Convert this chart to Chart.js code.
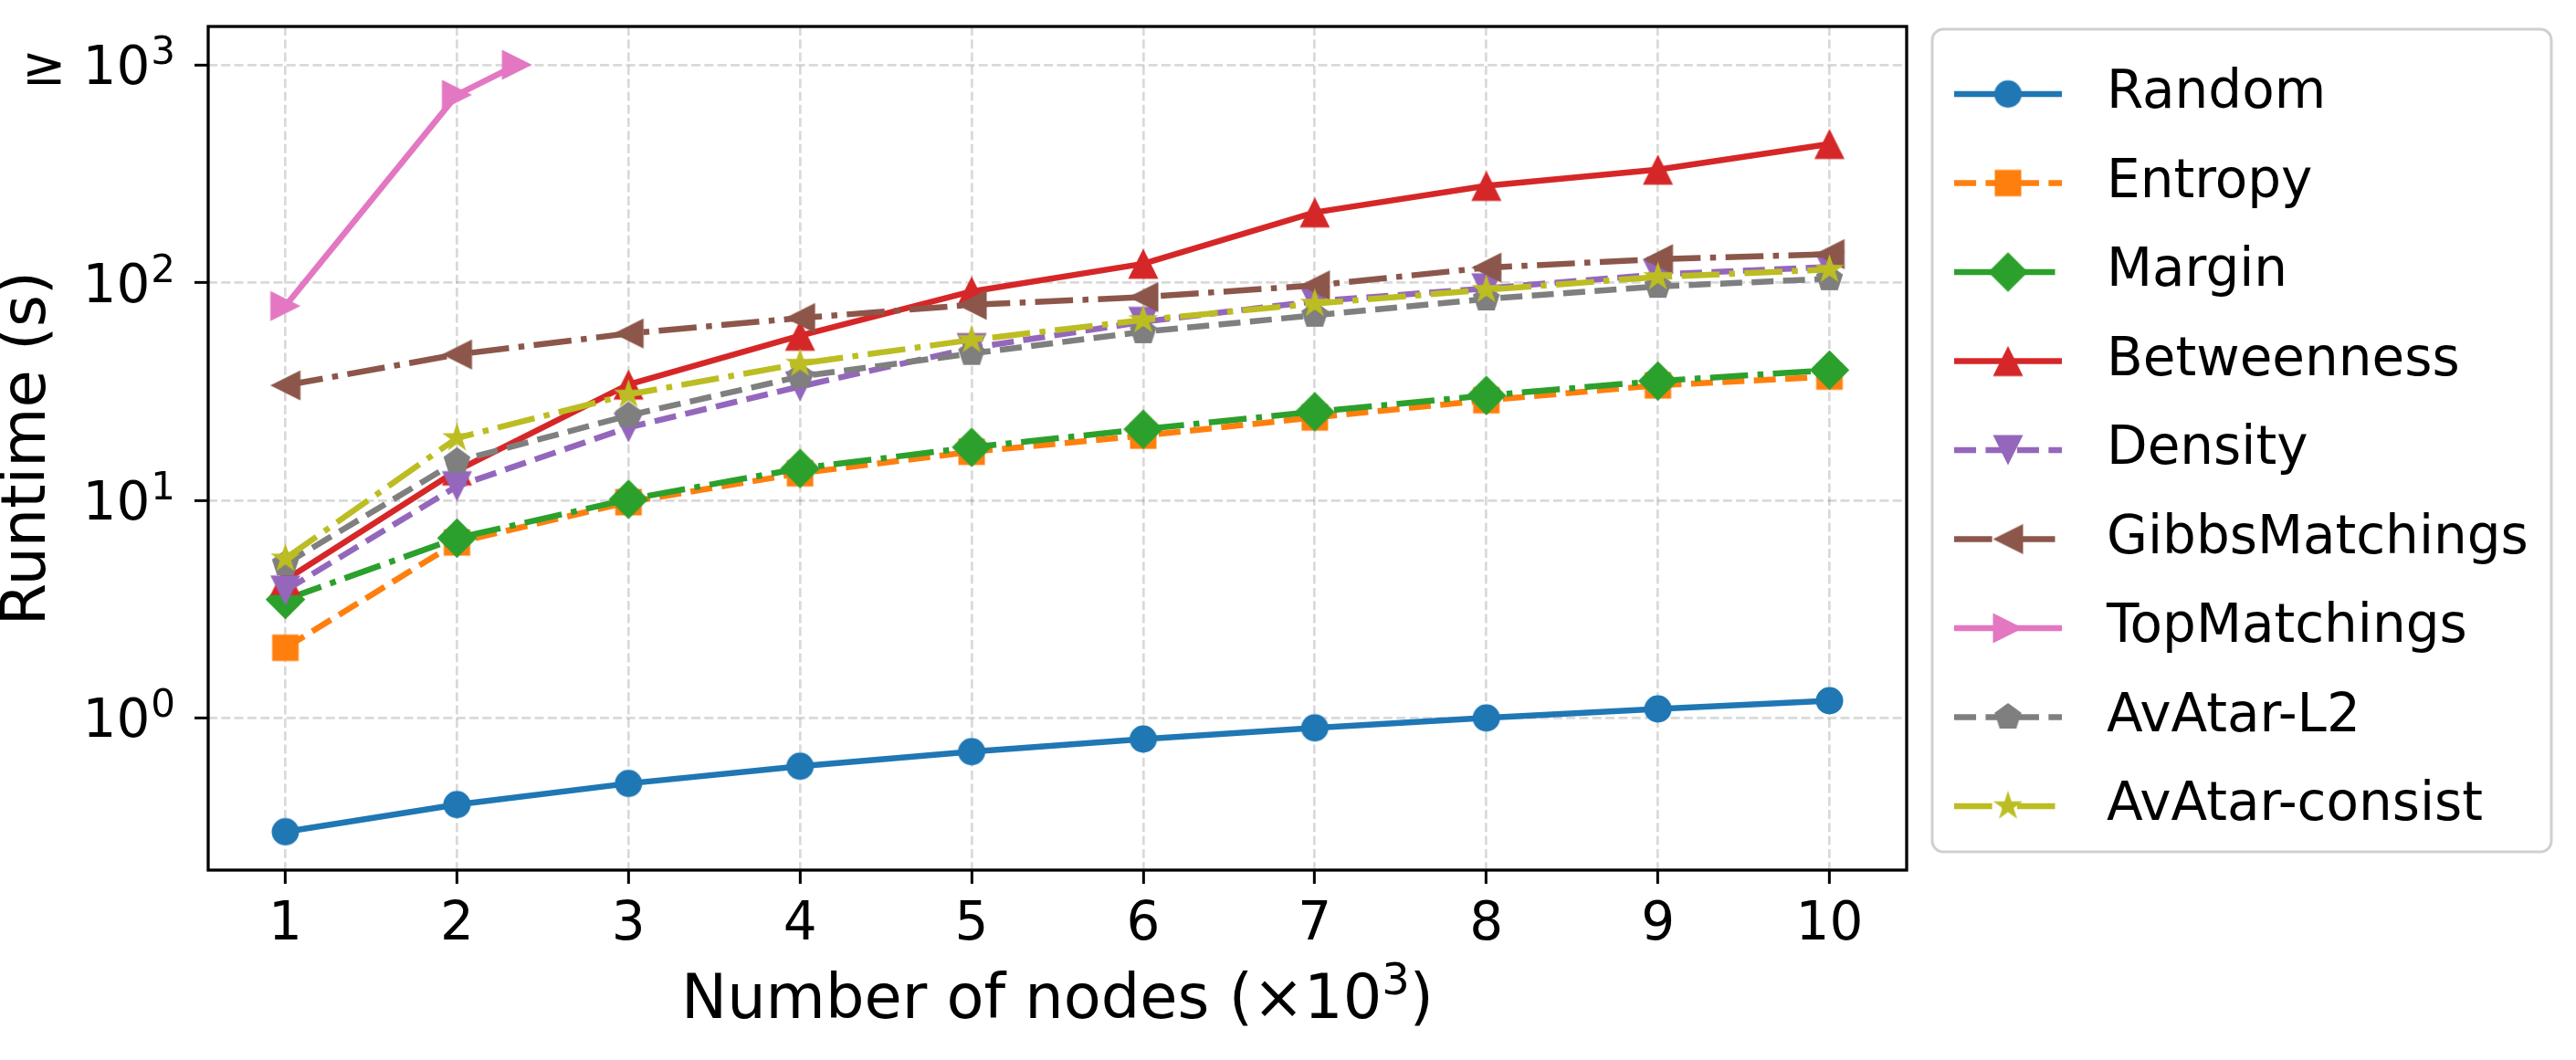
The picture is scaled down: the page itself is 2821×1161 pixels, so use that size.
<!DOCTYPE html>
<html>
<head>
<meta charset="utf-8">
<title>Runtime vs number of nodes</title>
<script src="https://cdn.jsdelivr.net/npm/chart.js@4.4.1/dist/chart.umd.min.js"></script>
<style>
  html, body { margin: 0; padding: 0; background: #fff; }
  #wrap { width: 2821px; height: 1161px; }
</style>
</head>
<body>
<div id="wrap"><canvas id="runtimeChart" width="2821" height="1161"></canvas></div>
<script>
// Runtime (s) vs number of nodes (x10^3), log y axis

// x positions
const nodes = [1, 2, 3, 4, 5, 6, 7, 8, 9, 10];
const topMatchingsNodes = [1, 2, 2.35];

// series values (seconds)
const random = [0.3, 0.4, 0.5, 0.6, 0.7, 0.8, 0.9, 1.0, 1.1, 1.2];
const entropy = [2.1, 6.4, 9.8, 13.3, 16.7, 19.8, 24, 28.8, 33.7, 37];
const margin = [3.5, 6.7, 10.1, 14, 17.5, 21.2, 25.5, 30.3, 35.3, 39.6];
const betweenness = [4.3, 13.7, 34, 57, 91, 122, 210, 278, 330, 433];
const density = [3.85, 11.6, 21.6, 33.3, 50, 66, 82, 94, 109, 118];
const gibbsMatchings = [33.7, 46.7, 58.3, 68.7, 79, 85.7, 97, 117, 128, 135];
const topMatchings = [78, 728, 1000];
const avatarL2 = [5.1, 15.1, 24.5, 37, 47.2, 59.4, 70.7, 84, 96, 104];
const avatarConsist = [5.4, 19.3, 30.6, 42.4, 54.5, 67.3, 80, 92.6, 106, 114.6];

// tick labels
const xTickValues = [1, 2, 3, 4, 5, 6, 7, 8, 9, 10];
const yTickValues = [1, 10, 100, 1000];
const yTickExponents = ['0', '1', '2', '3'];
const yTickPrefixes = ['', '', '', '\u2265'];

const FONT = 'DejaVu Sans';
const LW = 6.5;
const DASHED = [3.7 * LW, 1.6 * LW];
const DASHDOT = [6.4 * LW, 1.6 * LW, 1.0 * LW, 1.6 * LW];

// draw a matplotlib-like filled marker into a small canvas
function makeMarker(shape, color, h) {
    const dim = Math.ceil(h * 3) + 4;
    const c = document.createElement('canvas');
    c.width = dim;
    c.height = dim;
    const g = c.getContext('2d');
    const cx = dim / 2, cy = dim / 2;
    g.fillStyle = color;
    g.beginPath();
    const poly = (pts) => {
        pts.forEach((p, i) => i ? g.lineTo(cx + p[0], cy + p[1]) : g.moveTo(cx + p[0], cy + p[1]));
    };
    const tri = (deg) => {
        const a = deg * Math.PI / 180;
        const base = [[0, -h], [h, h], [-h, h]];
        poly(base.map(([x, y]) => [x * Math.cos(a) - y * Math.sin(a), x * Math.sin(a) + y * Math.cos(a)]));
    };
    if (shape === 'o') {
        g.arc(cx, cy, h, 0, Math.PI * 2);
    } else if (shape === 's') {
        g.rect(cx - h, cy - h, 2 * h, 2 * h);
    } else if (shape === 'D') {
        const d = h * 1.45;
        poly([[0, -d], [d, 0], [0, d], [-d, 0]]);
    } else if (shape === '^') {
        tri(0);
    } else if (shape === '>') {
        tri(90);
    } else if (shape === 'v') {
        tri(180);
    } else if (shape === '<') {
        tri(270);
    } else if (shape === 'p') {
        const pts = [];
        for (let k = 0; k < 5; k++) {
            const a = -Math.PI / 2 + k * 2 * Math.PI / 5;
            pts.push([h * Math.cos(a), h * Math.sin(a)]);
        }
        poly(pts);
    } else if (shape === '*') {
        const pts = [];
        for (let k = 0; k < 10; k++) {
            const r = k % 2 ? h * 0.381966 : h;
            const a = -Math.PI / 2 + k * Math.PI / 5;
            pts.push([r * Math.cos(a), r * Math.sin(a)]);
        }
        poly(pts);
    }
    g.closePath();
    g.fill();
    return c;
}

const series = [
    { label: 'Random', x: nodes, y: random, color: '#1f77b4', dash: [], marker: 'o', size: 15 },
    { label: 'Entropy', x: nodes, y: entropy, color: '#ff7f0e', dash: DASHED, marker: 's', size: 14.5 },
    { label: 'Margin', x: nodes, y: margin, color: '#2ca02c', dash: DASHDOT, marker: 'D', size: 15 },
    { label: 'Betweenness', x: nodes, y: betweenness, color: '#d62728', dash: [], marker: '^', size: 16.5 },
    { label: 'Density', x: nodes, y: density, color: '#9467bd', dash: DASHED, marker: 'v', size: 16.5 },
    { label: 'GibbsMatchings', x: nodes, y: gibbsMatchings, color: '#8c564b', dash: DASHDOT, marker: '<', size: 16.5 },
    { label: 'TopMatchings', x: topMatchingsNodes, y: topMatchings, color: '#e377c2', dash: [], marker: '>', size: 16.5 },
    { label: 'AvAtar-L2', x: nodes, y: avatarL2, color: '#7f7f7f', dash: DASHED, marker: 'p', size: 15.5 },
    { label: 'AvAtar-consist', x: nodes, y: avatarConsist, color: '#bcbd22', dash: DASHDOT, marker: '*', size: 17 }
];
series.forEach(s => { s.icon = makeMarker(s.marker, s.color, s.size); });

const datasets = series.map((s, i) => ({
    label: s.label,
    data: s.x.map((x, j) => ({ x: x, y: s.y[j] })),
    borderColor: s.color,
    backgroundColor: s.color,
    borderWidth: LW,
    borderDash: s.dash,
    borderJoinStyle: 'round',
    pointStyle: s.icon,
    pointRadius: 12,
    pointHoverRadius: 12,
    tension: 0,
    fill: false,
    order: series.length - i
}));

const gridColor = 'rgba(0,0,0,0.15)';
const gridDash = [10, 4.3];

// draws text pieces left to right: [text, fontSize, raise]
function drawPieces(ctx, pieces, x, baseline) {
    pieces.forEach(([t, size, raise]) => {
        ctx.font = size + 'px "' + FONT + '"';
        ctx.fillText(t, x, baseline - raise);
        x += ctx.measureText(t).width;
    });
}
function piecesWidth(ctx, pieces) {
    let w = 0;
    pieces.forEach(([t, size]) => {
        ctx.font = size + 'px "' + FONT + '"';
        w += ctx.measureText(t).width;
    });
    return w;
}

// y tick labels and x title with real superscripts, frame and legend box
const decorPlugin = {
    id: 'decor',
    afterDraw(chart) {
        const ctx = chart.ctx;
        const area = chart.chartArea;
        const yScale = chart.scales.y;

        ctx.save();
        ctx.fillStyle = '#000';
        ctx.textAlign = 'left';
        ctx.textBaseline = 'alphabetic';

        // y tick labels
        const right = area.left - 15 - 21;
        yTickValues.forEach((v, i) => {
            const py = yScale.getPixelForValue(v);
            const base = py + 0.3645 * 58;
            ctx.font = '42px "' + FONT + '"';
            const ew = ctx.measureText(yTickExponents[i]).width;
            ctx.font = '58px "' + FONT + '"';
            const bw = ctx.measureText('10').width;
            const x0 = right - ew - bw - 1;
            ctx.fillText('10', x0, base);
            if (yTickPrefixes[i]) {
                const pw = ctx.measureText(yTickPrefixes[i]).width;
                ctx.fillText(yTickPrefixes[i], x0 - 18 - pw, base);
            }
            ctx.font = '42px "' + FONT + '"';
            ctx.fillText(yTickExponents[i], x0 + bw + 1, base - 22);
        });

        // x axis title
        const xTitle = [['Number of nodes (\u00d710', 67, 0], ['3', 48, 26], [')', 67, 0]];
        const tw = piecesWidth(ctx, xTitle);
        drawPieces(ctx, xTitle, (area.left + area.right) / 2 - tw / 2, 1115);
        ctx.restore();

        // axes frame
        ctx.save();
        ctx.strokeStyle = '#000';
        ctx.lineWidth = 3.3;
        ctx.strokeRect(area.left, area.top, area.right - area.left, area.bottom - area.top);
        ctx.restore();

        // legend
        const bx = area.right + 28, by = area.top + 3, bw = 678, bh = 901, r = 12;
        ctx.save();
        ctx.beginPath();
        ctx.moveTo(bx + r, by);
        ctx.arcTo(bx + bw, by, bx + bw, by + bh, r);
        ctx.arcTo(bx + bw, by + bh, bx, by + bh, r);
        ctx.arcTo(bx, by + bh, bx, by, r);
        ctx.arcTo(bx, by, bx + bw, by, r);
        ctx.closePath();
        ctx.fillStyle = 'rgba(255,255,255,0.8)';
        ctx.fill();
        ctx.strokeStyle = '#d0d0d0';
        ctx.lineWidth = 3;
        ctx.stroke();

        const hx0 = bx + 24, hx1 = bx + 142, tx = bx + 191;
        series.forEach((s, i) => {
            const cy = by + 71 + i * 97.5;
            ctx.beginPath();
            ctx.setLineDash(s.dash);
            ctx.lineDashOffset = 0;
            ctx.strokeStyle = s.color;
            ctx.lineWidth = LW;
            ctx.moveTo(hx0, cy);
            ctx.lineTo(hx1, cy);
            ctx.stroke();
            ctx.setLineDash([]);
            const mx = (hx0 + hx1) / 2;
            ctx.drawImage(s.icon, mx - s.icon.width / 2, cy - s.icon.height / 2);
            ctx.fillStyle = '#000';
            ctx.font = '58px "' + FONT + '"';
            ctx.textAlign = 'left';
            ctx.textBaseline = 'middle';
            ctx.fillText(s.label, tx, cy);
        });
        ctx.restore();
    }
};

new Chart(document.getElementById('runtimeChart'), {
    type: 'line',
    data: { datasets: datasets },
    options: {
        responsive: false,
        animation: false,
        devicePixelRatio: 1,
        events: [],
        layout: { padding: { left: 0, top: 29, right: 733, bottom: 0 } },
        plugins: {
            legend: { display: false },
            tooltip: { enabled: false }
        },
        scales: {
            x: {
                type: 'linear',
                min: 0.55,
                max: 10.45,
                afterBuildTicks: (s) => { s.ticks = xTickValues.map(v => ({ value: v })); },
                afterFit: (s) => { s.height = 208; },
                ticks: {
                    font: { family: FONT, size: 58 },
                    color: '#000',
                    padding: 11,
                    maxRotation: 0,
                    autoSkip: false,
                    callback: (v) => String(v)
                },
                grid: { color: gridColor, lineWidth: 2.7, tickLength: 15, tickColor: '#000', tickWidth: 3 },
                border: { display: false, dash: gridDash },
                title: { display: false }
            },
            y: {
                type: 'logarithmic',
                min: 0.2,
                max: 1500,
                afterBuildTicks: (s) => { s.ticks = yTickValues.map(v => ({ value: v, major: true })); },
                afterFit: (s) => { s.width = 228; },
                ticks: { display: false },
                grid: { color: gridColor, lineWidth: 2.7, tickLength: 15, tickColor: '#000', tickWidth: 3 },
                border: { display: false, dash: gridDash },
                title: {
                    display: true,
                    text: 'Runtime (s)',
                    font: { family: FONT, size: 67, lineHeight: 0.95 },
                    color: '#000',
                    padding: 0
                }
            }
        }
    },
    plugins: [decorPlugin]
});
</script>
</body>
</html>
